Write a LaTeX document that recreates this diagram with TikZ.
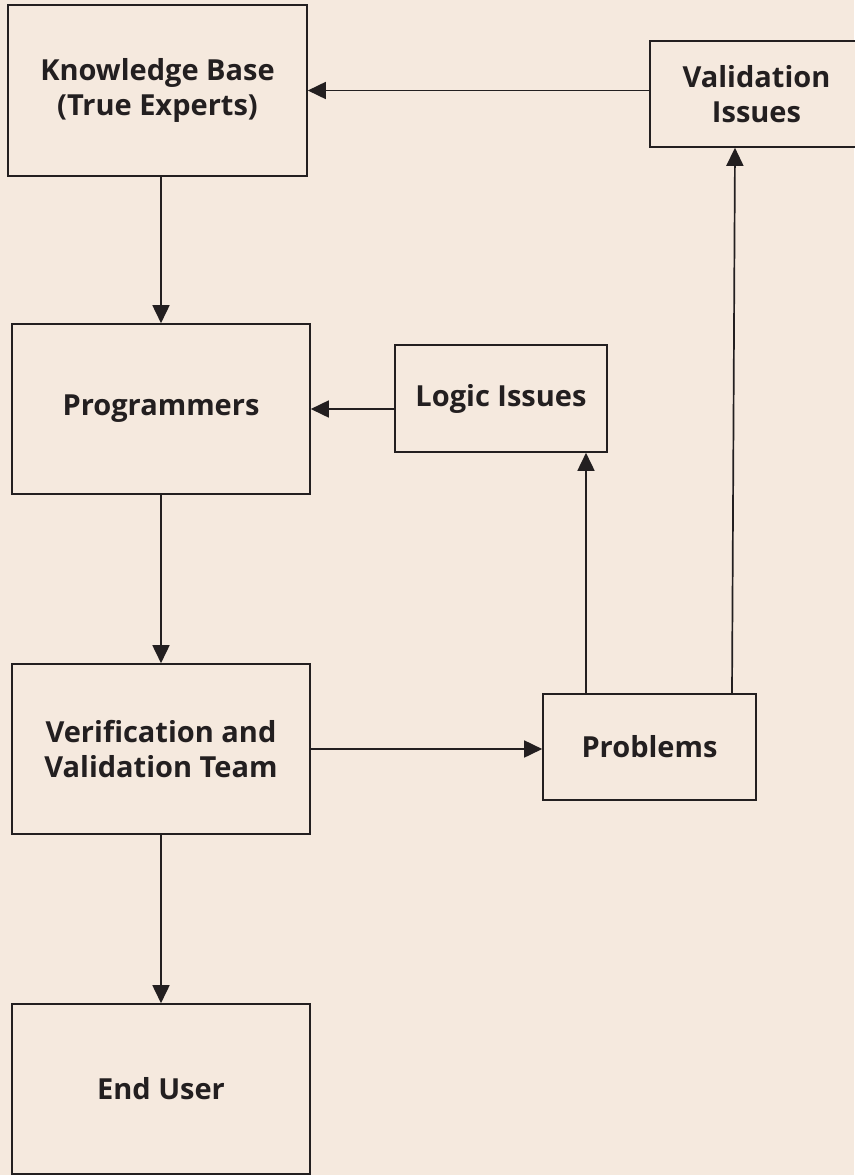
\documentclass[tikz,border=0pt]{standalone}
\usepackage{fontspec}
\setmainfont{Open Sans}
\usetikzlibrary{arrows.meta}
\definecolor{bg}{RGB}{245,233,222}
\definecolor{ink}{RGB}{35,31,32}
\begin{document}
\begin{tikzpicture}[x=1pt,y=-1pt,
  box/.style={draw=ink,line width=1.6pt,fill=bg,align=center,text=ink,
    font=\fontsize{29}{35}\selectfont\bfseries,inner sep=0pt},
  arr/.style={draw=ink,line width=1.7pt,-{Triangle[length=18pt,width=17pt]}}]
\fill[bg] (0,0) rectangle (854,1175);
\useasboundingbox (0,0) rectangle (854,1175);
\node[box,minimum width=299pt,minimum height=171pt] (kb) at (157.5,90.5) {Knowledge Base\\(True Experts)};
\node[box,minimum width=213pt,minimum height=106pt] (vi) at (756.5,94) {Validation\\Issues};
\node[box,minimum width=298pt,minimum height=170pt] (prog) at (161,409) {Programmers};
\node[box,minimum width=212pt,minimum height=107pt] (logic) at (501,398.5) {Logic Issues};
\node[box,minimum width=298pt,minimum height=170pt] (vv) at (161,749) {Verification and\\Validation Team};
\node[box,minimum width=213pt,minimum height=106pt] (prob) at (649.5,747) {Problems};
\node[box,minimum width=298pt,minimum height=170pt] (eu) at (161,1089) {End User};
\draw[arr] (vi.west |- kb.east) -- (kb.east);
\draw[arr] (kb.south -| prog.north) -- (prog.north);
\draw[arr] (logic.west |- prog.east) -- (prog.east);
\draw[arr] (prog.south) -- (vv.north);
\draw[arr] (vv.east) -- (vv.east -| prob.west);
\draw[arr] (vv.south) -- (eu.north);
\draw[arr] ([xshift=-63.5pt]prob.north) -- ([xshift=-63.5pt]prob.north |- logic.south);
\draw[arr] ([xshift=82.5pt]prob.north) -- ([xshift=-21.5pt]vi.south);
\end{tikzpicture}
\end{document}
